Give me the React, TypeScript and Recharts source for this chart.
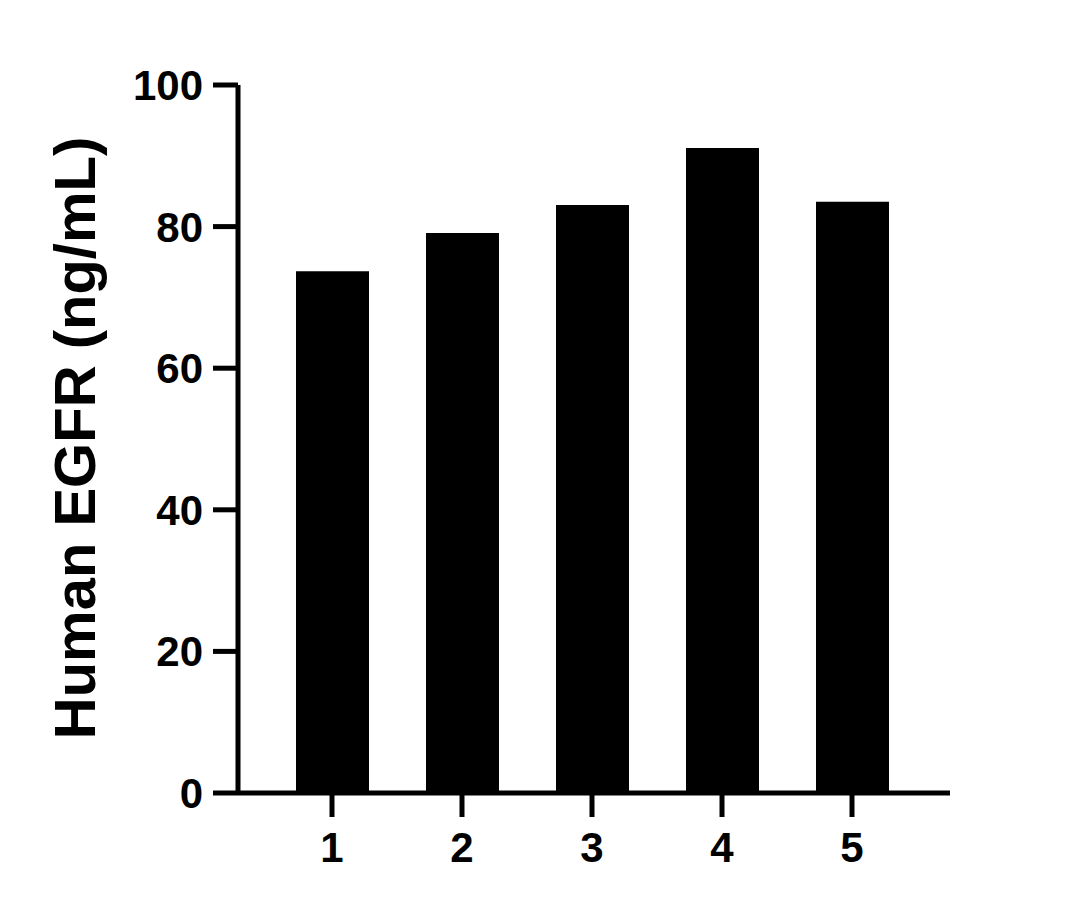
import React from 'react';
import { BarChart, Bar, XAxis, YAxis, Label } from 'recharts';

// Sample numbers along the x axis
const samples = ['1', '2', '3', '4', '5'];

// Human EGFR concentration per sample (ng/mL)
const egfr = [73.7, 79.1, 83.05, 91.1, 83.5];

// Y axis ticks
const yTicks = [0, 20, 40, 60, 80, 100];

const data = samples.map((s, i) => ({ sample: s, value: egfr[i] }));

const FONT = '"Liberation Sans", Arial, sans-serif';

const YTitle = () => (
  <text
    x={95}
    y={438}
    transform="rotate(-90, 95, 438)"
    textAnchor="middle"
    fontFamily={FONT}
    fontWeight="bold"
    fontSize={58}
    fill="#000"
  >
    Human EGFR (ng/mL)
  </text>
);

export default function App() {
  return (
    <div style={{ position: 'absolute', left: 0, top: 0, background: '#fff' }}>
      <BarChart
        width={1081}
        height={910}
        data={data}
        margin={{ top: 85, right: 131, bottom: 0, left: 0 }}
      >
        <XAxis
          dataKey="sample"
          height={117}
          padding={{ left: 29, right: 33 }}
          axisLine={{ stroke: '#000', strokeWidth: 5 }}
          tickLine={{ stroke: '#000', strokeWidth: 5 }}
          tickSize={24}
          tickMargin={15}
          tick={{ fill: '#000', fontSize: 42, fontWeight: 'bold', fontFamily: FONT }}
        />
        <YAxis
          width={238}
          domain={[0, 100]}
          ticks={yTicks}
          axisLine={{ stroke: '#000', strokeWidth: 5 }}
          tickLine={{ stroke: '#000', strokeWidth: 5 }}
          tickSize={25}
          tickMargin={10}
          tick={{ fill: '#000', fontSize: 42, fontWeight: 'bold', fontFamily: FONT }}
        >
          <Label content={<YTitle />} />
        </YAxis>
        <Bar dataKey="value" fill="#000" barSize={73} isAnimationActive={false} />
      </BarChart>
    </div>
  );
}
